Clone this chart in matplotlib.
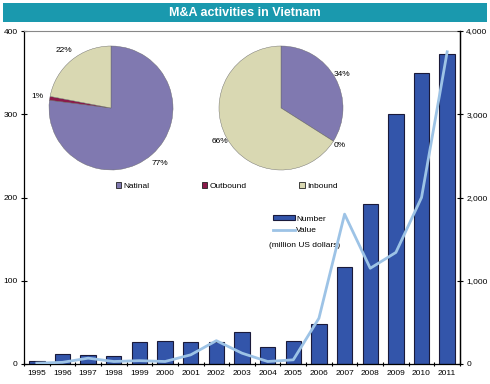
import matplotlib
matplotlib.use("Agg")
import matplotlib.pyplot as plt
import numpy as np
from matplotlib.patches import Rectangle, Patch
from matplotlib.lines import Line2D
from matplotlib.ticker import FuncFormatter

plt.rcParams['font.family'] = ['Liberation Sans', 'DejaVu Sans']

years = ['1995', '1996', '1997', '1998', '1999', '2000', '2001', '2002', '2003',
         '2004', '2005', '2006', '2007', '2008', '2009', '2010', '2011']
number = [4, 12, 11, 10, 26, 28, 27, 27, 38, 20, 28, 48, 116, 192, 300, 350, 372]
value = [10, 20, 70, 30, 40, 30, 110, 280, 130, 30, 50, 550, 1800, 1150, 1340, 2000, 3750]

pie_labels = ['Natinal', 'Outbound', 'Inbound']
pie_number = [77, 1, 22]
pie_value = [34, 0, 66]

bar_color = '#3355AA'
line_color = '#9DC3E6'
pie_colors = ['#8079B0', '#8B1A4A', '#D9D8B2']
title_color = '#1A99AE'

fig = plt.figure(figsize=(4.9, 3.84), dpi=100)

# title bar
fig.add_artist(Rectangle((3/490, 1-22/384), 484/490, 19/384, transform=fig.transFigure,
                         facecolor=title_color, edgecolor='none'))
fig.text(0.5, 1-12.5/384, 'M&A activities in Vietnam', ha='center', va='center',
         color='white', fontsize=9, fontweight='bold')

ax = fig.add_axes([24/490, 1-364/384, 436/490, 333/384])
x = np.arange(len(years))
ax.bar(x, number, width=0.6, color=bar_color, edgecolor='#1a1a3a', linewidth=0.8, zorder=2)
ax.set_xlim(-0.5, len(years)-0.5)
ax.set_ylim(0, 400)
ax.set_yticks([0, 100, 200, 300, 400])
ax.set_xticks(x)
ax.set_xticklabels(years)
ax.set_xticks(np.arange(len(years)+1) - 0.5, minor=True)
ax.tick_params(axis='x', which='major', length=0, labelsize=6, pad=4)
ax.tick_params(axis='x', which='minor', length=3, direction='inout', width=0.8)
ax.tick_params(axis='y', labelsize=6, length=5, direction='inout', width=0.8, pad=2)
for s in ['left', 'bottom', 'right']:
    ax.spines[s].set_color('black')
    ax.spines[s].set_linewidth(0.9)
ax.spines['top'].set_color('#888888')
ax.spines['top'].set_linewidth(0.8)

ax2 = ax.twinx()
ax2.plot(x, value, color=line_color, linewidth=2, zorder=3)
ax2.set_ylim(0, 4000)
ax2.set_yticks([0, 1000, 2000, 3000, 4000])
ax2.yaxis.set_major_formatter(FuncFormatter(lambda v, p: f'{int(v):,}'))
ax2.tick_params(axis='y', labelsize=6, length=5, direction='inout', width=0.8, pad=2)
ax2.spines['right'].set_color('black')
ax2.spines['right'].set_linewidth(0.9)
ax2.spines['top'].set_visible(False)
ax2.spines['left'].set_visible(False)
ax2.spines['bottom'].set_visible(False)

# series legend
handles = [Patch(facecolor=bar_color, edgecolor='#1a1a3a', linewidth=0.8),
           Line2D([], [], color=line_color, linewidth=2)]
leg = ax.legend(handles, ['Number', 'Value'], loc='upper left',
                bbox_to_anchor=(0.555, 0.47), frameon=False, fontsize=6,
                handlelength=2.6, handleheight=0.6, handletextpad=0.1, labelspacing=0.5)
ax.text(0.562, 0.357, '(million US dollars)', transform=ax.transAxes, fontsize=6,
        ha='left', va='center')

# pies
def draw_pie(rect, vals, dist):
    pa = fig.add_axes(rect)
    wedges, texts, autotexts = pa.pie(vals, colors=pie_colors, startangle=90, counterclock=False,
                                      autopct='%.0f%%', pctdistance=dist,
                                      wedgeprops=dict(linewidth=0.3, edgecolor='#666666'),
                                      textprops=dict(fontsize=6))
    pa.set_xlim(-1, 1)
    pa.set_ylim(-1, 1)
    pa.set_aspect('equal')
    pa.axis('off')
    return pa

draw_pie([49/490, 1-170/384, 124/490, 124/384], pie_number, 1.2)
draw_pie([219/490, 1-170/384, 124/490, 124/384], pie_value, 1.12)

pie_handles = [Patch(facecolor=c, edgecolor='#222222', linewidth=0.6) for c in pie_colors]
fig.legend(pie_handles, pie_labels, loc='center left', bbox_to_anchor=(108/490, 1-186/384),
           ncol=3, frameon=False, fontsize=6, handlelength=0.7, handleheight=0.7,
           handletextpad=0.3, columnspacing=6.2)

fig.savefig('out.png', dpi=100)
